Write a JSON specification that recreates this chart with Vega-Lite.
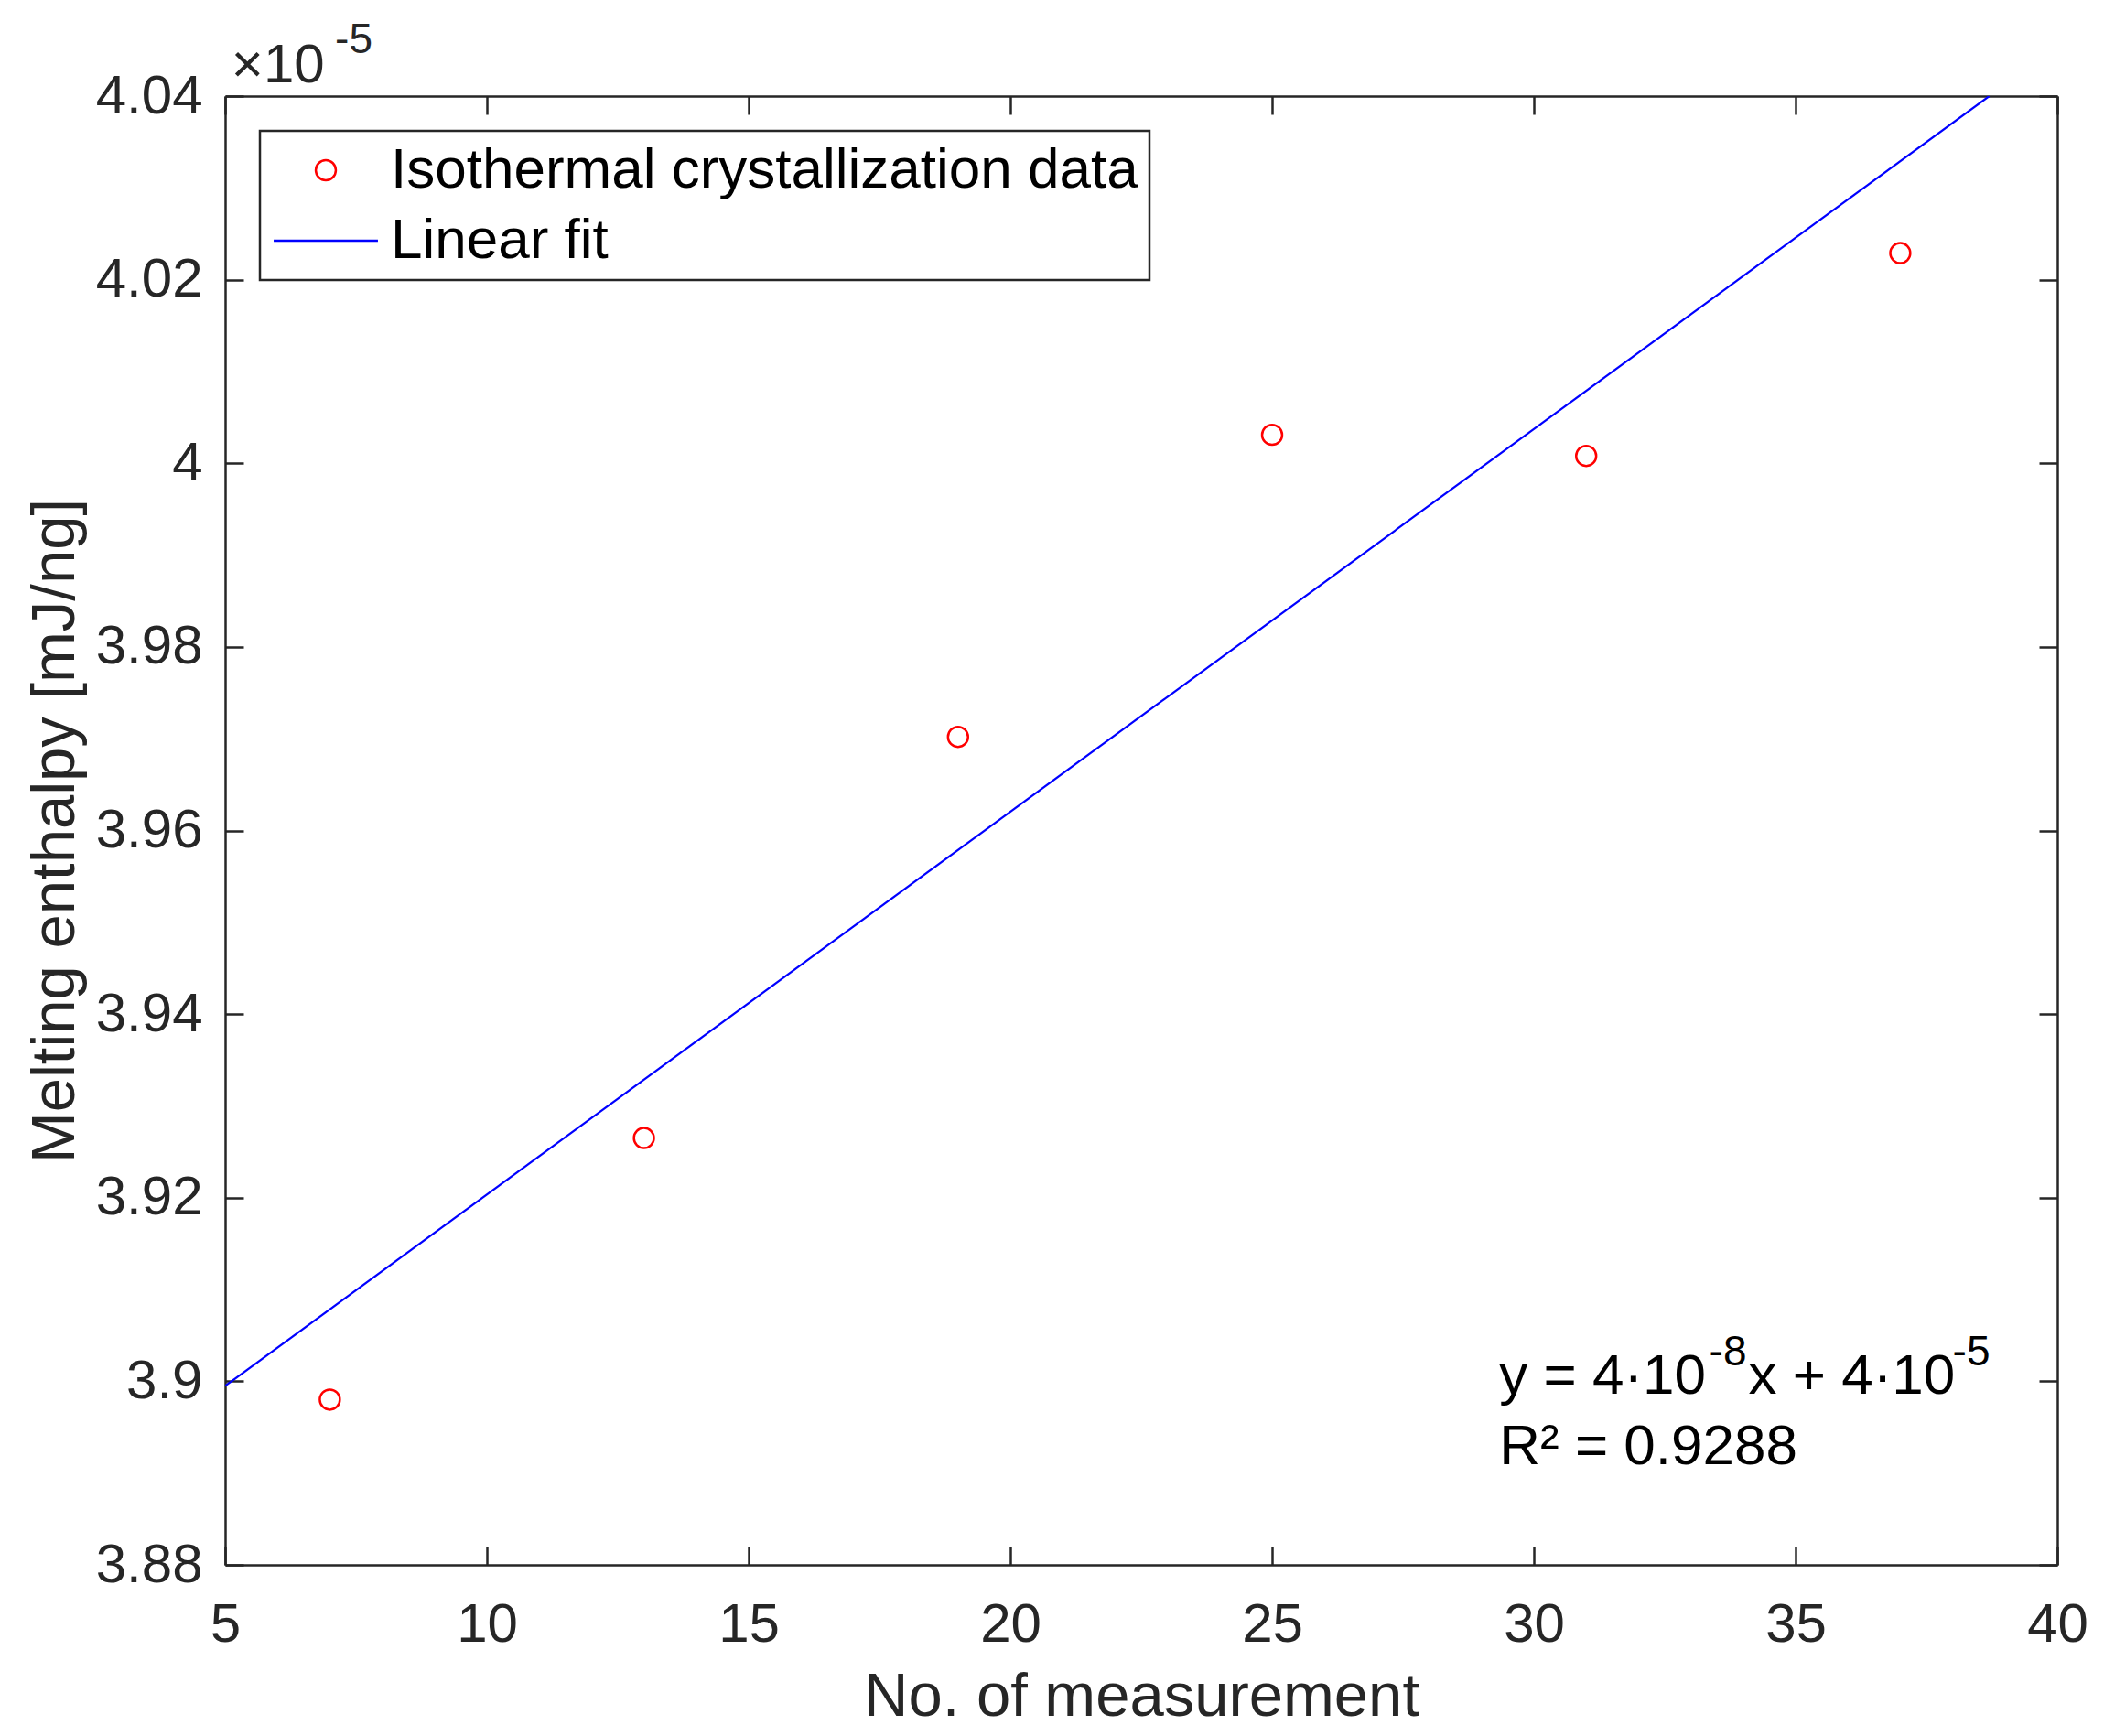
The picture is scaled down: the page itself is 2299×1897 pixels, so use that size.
{
  "$schema": "https://vega.github.io/schema/vega-lite/v6.json",
  "width": 2002,
  "height": 1605,
  "autosize": {"type": "none"},
  "padding": {"left": 246, "top": 105, "right": 51, "bottom": 187},
  "background": "white",
  "config": {
    "font": "Liberation Sans",
    "view": {"stroke": null},
    "axis": {
      "grid": false,
      "domainColor": "#262626",
      "domainWidth": 2.5,
      "tickColor": "#262626",
      "tickWidth": 2.5,
      "tickSize": -20,
      "labelColor": "#262626",
      "labelFontSize": 60,
      "labelFont": "Liberation Sans",
      "titleFont": "Liberation Sans",
      "titleFontSize": 67,
      "titleColor": "#262626",
      "titleFontWeight": "normal",
      "labelFlush": false,
      "labelOverlap": false
    },
    "legend": {
      "orient": "top-left",
      "offset": 38,
      "strokeColor": "#262626",
      "strokeWidth": 2.5,
      "fillColor": "white",
      "padding": 12,
      "labelFontSize": 62,
      "labelFont": "Liberation Sans",
      "labelColor": "#000000",
      "symbolStrokeWidth": 2.5,
      "symbolSize": 480,
      "symbolOffset": 29,
      "labelOffset": 40,
      "rowPadding": 15,
      "labelLimit": 2000
    }
  },
  "datasets": {
    "points": [
      {"measurement": 7, "enthalpy": 3.898, "series": "Isothermal crystallization data"},
      {"measurement": 13, "enthalpy": 3.9265, "series": "Isothermal crystallization data"},
      {"measurement": 19, "enthalpy": 3.9702, "series": "Isothermal crystallization data"},
      {"measurement": 25, "enthalpy": 4.0031, "series": "Isothermal crystallization data"},
      {"measurement": 31, "enthalpy": 4.0008, "series": "Isothermal crystallization data"},
      {"measurement": 37, "enthalpy": 4.0229, "series": "Isothermal crystallization data"}
    ],
    "fit": [
      {"measurement": 5, "enthalpy": 3.8995, "series": "Linear fit"},
      {"measurement": 38.7, "enthalpy": 4.04, "series": "Linear fit"}
    ],
    "notes_main": [
      {"measurement": 29.34, "enthalpy": 3.8986, "text": "y = 4·10"},
      {"measurement": 34.1, "enthalpy": 3.8986, "text": "x + 4·10"},
      {"measurement": 29.34, "enthalpy": 3.891, "text": "R² = 0.9288"}
    ],
    "notes_sup": [
      {"measurement": 33.35, "enthalpy": 3.9017, "text": "-8"},
      {"measurement": 38.0, "enthalpy": 3.9017, "text": "-5"}
    ],
    "exp_base": [
      {"measurement": 5.12, "enthalpy": 4.0415, "text": "×10"}
    ],
    "exp_sup": [
      {"measurement": 7.1, "enthalpy": 4.0447, "text": "-5"}
    ]
  },
  "layer": [
    {
      "data": {"name": "points"},
      "mark": {"type": "point", "filled": false, "size": 480, "strokeWidth": 2.5, "opacity": 1},
      "encoding": {
        "x": {
          "field": "measurement", "type": "quantitative",
          "scale": {"domain": [5, 40], "nice": false, "zero": false},
          "axis": {"orient": "bottom", "values": [5, 10, 15, 20, 25, 30, 35, 40], "title": "No. of measurement", "labelPadding": 56, "titlePadding": 16}
        },
        "y": {
          "field": "enthalpy", "type": "quantitative",
          "scale": {"domain": [3.88, 4.04], "nice": false, "zero": false},
          "axis": {"orient": "left", "values": [3.88, 3.9, 3.92, 3.94, 3.96, 3.98, 4, 4.02, 4.04], "labelExpr": "format(datum.value, '.2~f')", "title": "Melting enthalpy [mJ/ng]", "labelPadding": 45, "titlePadding": 10}
        },
        "color": {
          "field": "series", "type": "nominal",
          "scale": {"domain": ["Isothermal crystallization data", "Linear fit"], "range": ["#ff0000", "#0000ff"]},
          "legend": {"title": null}
        },
        "shape": {
          "field": "series", "type": "nominal",
          "scale": {"domain": ["Isothermal crystallization data", "Linear fit"], "range": ["circle", "M-5.2,0L5.2,0"]},
          "legend": {"title": null}
        }
      }
    },
    {
      "data": {"name": "fit"},
      "mark": {"type": "line", "strokeWidth": 2.2, "clip": true},
      "encoding": {
        "x": {
          "field": "measurement", "type": "quantitative",
          "scale": {"domain": [5, 40], "nice": false, "zero": false},
          "axis": {"orient": "top", "values": [5, 10, 15, 20, 25, 30, 35, 40], "labels": false, "title": null}
        },
        "y": {
          "field": "enthalpy", "type": "quantitative",
          "scale": {"domain": [3.88, 4.04], "nice": false, "zero": false},
          "axis": {"orient": "right", "values": [3.88, 3.9, 3.92, 3.94, 3.96, 3.98, 4, 4.02, 4.04], "labels": false, "title": null}
        },
        "color": {"field": "series", "type": "nominal"}
      }
    },
    {
      "data": {"name": "notes_main"},
      "mark": {"type": "text", "align": "left", "baseline": "alphabetic", "fontSize": 62, "color": "#000000"},
      "encoding": {
        "x": {"field": "measurement", "type": "quantitative", "axis": null},
        "y": {"field": "enthalpy", "type": "quantitative", "axis": null},
        "text": {"field": "text"}
      }
    },
    {
      "data": {"name": "notes_sup"},
      "mark": {"type": "text", "align": "left", "baseline": "alphabetic", "fontSize": 46, "color": "#000000"},
      "encoding": {
        "x": {"field": "measurement", "type": "quantitative", "axis": null},
        "y": {"field": "enthalpy", "type": "quantitative", "axis": null},
        "text": {"field": "text"}
      }
    },
    {
      "data": {"name": "exp_base"},
      "mark": {"type": "text", "align": "left", "baseline": "alphabetic", "fontSize": 60, "color": "#262626"},
      "encoding": {
        "x": {"field": "measurement", "type": "quantitative", "axis": null},
        "y": {"field": "enthalpy", "type": "quantitative", "axis": null},
        "text": {"field": "text"}
      }
    },
    {
      "data": {"name": "exp_sup"},
      "mark": {"type": "text", "align": "left", "baseline": "alphabetic", "fontSize": 46, "color": "#262626"},
      "encoding": {
        "x": {"field": "measurement", "type": "quantitative", "axis": null},
        "y": {"field": "enthalpy", "type": "quantitative", "axis": null},
        "text": {"field": "text"}
      }
    }
  ],
  "resolve": {"axis": {"x": "independent", "y": "independent"}}
}
